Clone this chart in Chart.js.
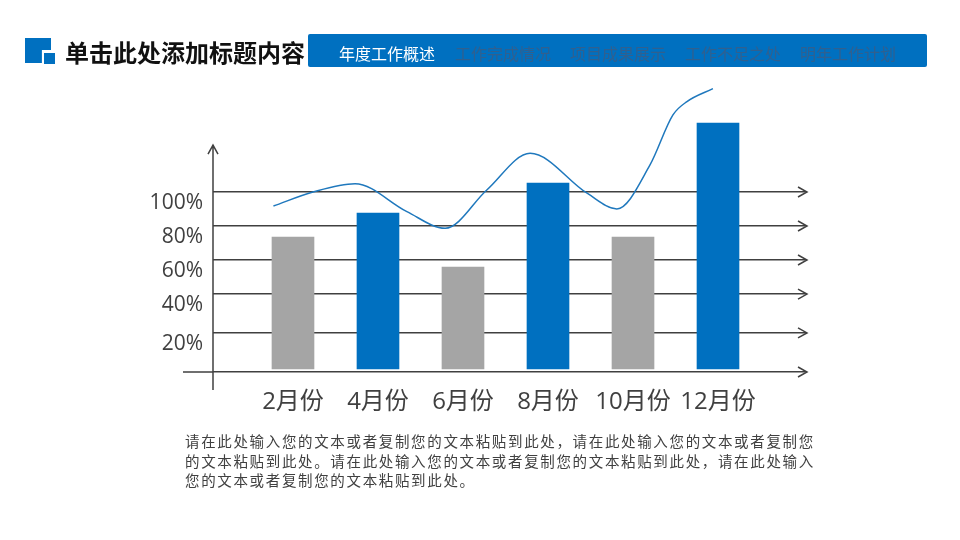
<!DOCTYPE html>
<html lang="zh-CN">
<head>
<meta charset="utf-8">
<script src="https://cdn.jsdelivr.net/npm/chart.js@4/dist/chart.umd.min.js"></script>
<style>
html,body{margin:0;padding:0;background:#fff;width:960px;height:540px;overflow:hidden}
body{position:relative;font-family:"Noto Sans CJK SC","Open Sans",sans-serif}
canvas{position:absolute;left:0;top:0}
.abs{position:absolute;white-space:nowrap}
#logoA{left:25px;top:38px;width:26px;height:25px;background:#0070c0;clip-path:polygon(0 0,100% 0,100% 48%,65% 48%,65% 100%,0 100%)}
#logoB{left:44px;top:53px;width:11px;height:11px;background:#0070c0}
#title{left:65px;top:34px;font-size:24px;line-height:36px;font-weight:700;color:#111}
#bar{left:308px;top:34px;width:619px;height:33px;background:#0070c0;border-radius:2px}
.nav{top:41px;font-size:16px;line-height:24px;color:#30608f}
.para{left:185px;font-size:14.5px;line-height:20px;color:#404040;letter-spacing:1.65px}
</style>
</head>
<body>
<canvas id="c" width="960" height="540" style="width:960px;height:540px"></canvas>
<div class="abs" id="logoA"></div><div class="abs" id="logoB"></div>
<div class="abs" id="title">单击此处添加标题内容</div>
<div class="abs" id="bar"></div>
<div class="abs nav" style="left:339px;color:#fff">年度工作概述</div>
<div class="abs nav" style="left:455px">工作完成情况</div>
<div class="abs nav" style="left:570px">项目成果展示</div>
<div class="abs nav" style="left:685px">工作不足之处</div>
<div class="abs nav" style="left:800px">明年工作计划</div>
<div class="abs para" style="top:431px">请在此处输入您的文本或者复制您的文本粘贴到此处&#xFF0C;请在此处输入您的文本或者复制您</div>
<div class="abs para" style="top:451px">的文本粘贴到此处。请在此处输入您的文本或者复制您的文本粘贴到此处&#xFF0C;请在此处输入</div>
<div class="abs para" style="top:470px">您的文本或者复制您的文本粘贴到此处。</div>
<script>
const months = [2, 4, 6, 8, 10, 12];
const monthLabels = ["2月份", "4月份", "6月份", "8月份", "10月份", "12月份"];
const barValues = [75, 88.3, 58.3, 105, 75, 138.3];
const barColors = ["#a5a5a5", "#0070c0", "#a5a5a5", "#0070c0", "#a5a5a5", "#0070c0"];
const barBase = 1.67;
const gridValues = [0, 21.7, 43.3, 62.2, 81.1, 100];
const labelValues = [15.6, 37.2, 56.1, 75, 93.9];
const percentLabels = ["20%", "40%", "60%", "80%", "100%"];
const lineMonths = [1.54,2.47,3.46,4.68,5.58,6.56,7.58,8.92,9.62,10.40,10.94,11.27,11.88];
const lineValues = [92.2,100,104.6,89.1,79.8,101.1,121.5,99.3,90.6,115,142.8,150.2,157.4];
const yMax = 162.2, yAxisTop = 126, yAxisBottom = -10;
const xMin = 0.118, xMax = 14.094, xAxisLeft = -0.588;
const inkColor = "#404040";
const fontFamily = '"Open Sans","Noto Sans CJK SC",sans-serif';

const arrowsPlugin = {
  id: "arrows",
  beforeDatasetsDraw(chart) {
    const {ctx, chartArea: a, scales: {x, y}} = chart;
    ctx.save();
    ctx.strokeStyle = inkColor; ctx.lineWidth = 1.5;
    const x0 = x.getPixelForValue(xMin);
    ctx.beginPath();
    ctx.moveTo(x0, y.getPixelForValue(yAxisTop));
    ctx.lineTo(x0, y.getPixelForValue(yAxisBottom));
    ctx.moveTo(x0 - 5, y.getPixelForValue(yAxisTop) + 9);
    ctx.lineTo(x0, y.getPixelForValue(yAxisTop));
    ctx.lineTo(x0 + 5, y.getPixelForValue(yAxisTop) + 9);
    const yb = y.getPixelForValue(0);
    ctx.moveTo(x.getPixelForValue(xAxisLeft), yb);
    ctx.lineTo(x0, yb);
    gridValues.forEach(v => {
      const p = y.getPixelForValue(v);
      ctx.moveTo(a.right - 9, p - 5);
      ctx.lineTo(a.right, p);
      ctx.lineTo(a.right - 9, p + 5);
    });
    ctx.stroke();
    ctx.restore();
  }
};

new Chart(document.getElementById("c"), {
  data: {
    datasets: [
      {
        type: "line",
        order: 1,
        data: lineMonths.map((m, i) => ({x: m, y: lineValues[i]})),
        borderColor: "#1f78bd",
        borderWidth: 1.5,
        pointRadius: 0,
        cubicInterpolationMode: "monotone",
        fill: false
      },
      {
        type: "bar",
        order: 2,
        data: months.map((m, i) => ({x: m, y: barValues[i]})),
        backgroundColor: barColors,
        barThickness: 42,
        base: barBase
      }
    ]
  },
  plugins: [arrowsPlugin],
  options: {
    responsive: false,
    animation: false,
    devicePixelRatio: 1,
    layout: {padding: {left: 0, right: 153, top: 80, bottom: 120}},
    plugins: {legend: {display: false}, tooltip: {enabled: false}},
    scales: {
      x: {
        type: "linear",
        offset: false,
        min: xMin,
        max: xMax,
        afterBuildTicks(s) { s.ticks = months.map(v => ({value: v})); },
        afterFit(s) { s.height = 48; },
        grid: {display: false},
        border: {display: false},
        ticks: {
          autoSkip: false, maxRotation: 0, padding: 8, color: inkColor,
          font: {family: fontFamily, size: 24},
          callback: v => monthLabels[months.indexOf(v)]
        }
      },
      y: {
        type: "linear",
        position: "left",
        min: 0,
        max: yMax,
        afterBuildTicks(s) { s.ticks = gridValues.map(v => ({value: v})); },
        afterFit(s) { s.width = 0; },
        grid: {color: inkColor, lineWidth: 1.5, drawTicks: false},
        border: {display: false},
        ticks: {display: false}
      },
      yLabels: {
        type: "linear",
        position: "left",
        min: 0,
        max: yMax,
        afterBuildTicks(s) { s.ticks = labelValues.map(v => ({value: v})); },
        afterFit(s) { s.width = 213; },
        grid: {display: false},
        border: {display: false},
        ticks: {
          autoSkip: false, padding: 2, color: inkColor,
          font: {family: fontFamily, size: 21},
          callback: v => percentLabels[labelValues.indexOf(v)]
        }
      }
    }
  }
});
</script>
</body>
</html>
